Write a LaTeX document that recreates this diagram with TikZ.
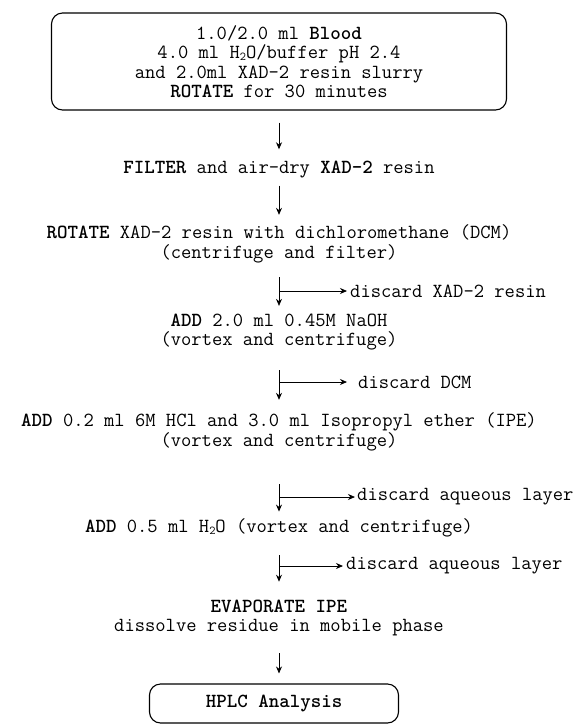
\documentclass[tikz,border=0pt]{standalone}
\usepackage{fontspec}
\usetikzlibrary{arrows.meta}

\newcommand{\lowtwo}{\raisebox{-1.5pt}{\fontsize{12}{12}\selectfont 2}}

\tikzset{
  stage/.style={font=\ttfamily\fontsize{20}{19.5}\selectfont, align=center, inner sep=0pt},
  roundbox/.style={stage, draw, line width=1.1pt, rounded corners=11pt},
  flow/.style={line width=0.8pt, -{Stealth[length=7pt,width=6pt]}},
}

\begin{document}
\begin{tikzpicture}[x=1pt,y=-1pt]
\useasboundingbox (0,0) rectangle (579,724);

\node[roundbox, minimum width=455pt, minimum height=97pt] (blood) at (279,61.5) {1.0/2.0 ml \textbf{Blood}\\4.0 ml H\lowtwo O/buffer pH 2.4\\and 2.0ml XAD-2 resin slurry\\\textbf{ROTATE} for 30 minutes};
\node[stage] (filter) at (279,170) {\textbf{FILTER} and air-dry \textbf{XAD-2} resin};
\node[stage] (rotate) at (279,244) {\textbf{ROTATE} XAD-2 resin with dichloromethane (DCM)\\(centrifuge and filter)};
\node[stage] (add1) at (279,332.25) {\textbf{ADD} 2.0 ml 0.45M NaOH\\(vortex and centrifuge)};
\node[stage] (add2) at (279,432) {\textbf{ADD} 0.2 ml 6M HCl and 3.0 ml Isopropyl ether (IPE)\\(vortex and centrifuge)};
\node[stage] (add3) at (279,528) {\textbf{ADD} 0.5 ml H\lowtwo O (vortex and centrifuge)};
\node[stage] (evap) at (279,618) {\textbf{EVAPORATE IPE}\\dissolve residue in mobile phase};
\node[roundbox, minimum width=249pt, minimum height=39pt] (hplc) at (274,703.5) {\textbf{HPLC Analysis}};

\node[stage, anchor=west] (drop1) at (350,291) {discard XAD-2 resin};
\node[stage, anchor=west] (drop2) at (358,382) {discard DCM};
\node[stage, anchor=west] (drop3) at (357,497) {discard aqueous layer};
\node[stage, anchor=west] (drop4) at (346,566) {discard aqueous layer};

\draw[flow, shorten <=12pt, shorten >=12pt] (blood.south) -- (filter.north);
\draw[flow, shorten <=7pt, shorten >=10pt] (filter.south) -- (rotate.north);
\draw[flow, shorten <=14pt, shorten >=7.9pt] (rotate.south) -- (add1.north);
\draw[flow, shorten >=3pt] (rotate.south |- drop1.west) -- (drop1.west);
\draw[flow, shorten <=19.4pt, shorten >=13pt] (add1.south) -- (add2.north);
\draw[flow, shorten >=11pt] (add1.south |- drop2.west) -- (drop2.west);
\draw[flow, shorten <=33pt, shorten >=7pt] (add2.south) -- (add3.north);
\draw[flow, shorten >=2pt] (add2.south |- drop3.west) -- (drop3.west);
\draw[flow, shorten <=18pt, shorten >=17.9pt] (add3.south) -- (evap.north);
\draw[flow, shorten >=3pt] (add3.south |- drop4.west) -- (drop4.west);
\draw[flow, shorten <=17pt, shorten >=10pt] (evap.south) -- (evap.south |- hplc.north);
\end{tikzpicture}
\end{document}
